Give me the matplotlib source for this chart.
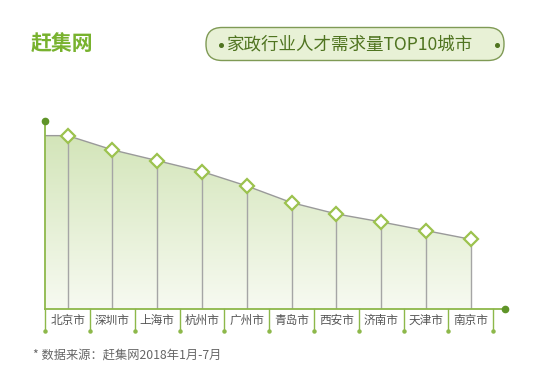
import matplotlib
matplotlib.use("Agg")
import matplotlib.pyplot as plt
import numpy as np
from matplotlib.patches import FancyBboxPatch, Polygon
from matplotlib.colors import LinearSegmentedColormap

plt.rcParams['font.family'] = ['Noto Sans CJK SC', 'DejaVu Sans']

# ---- data ----
cities = ["北京市", "深圳市", "上海市", "杭州市", "广州市",
          "青岛市", "西安市", "济南市", "天津市", "南京市"]
values = [100.0, 91.8, 85.6, 79.3, 71.0, 61.4, 54.9, 50.3, 45.3, 40.3]
brand = "赶集网"
title = "家政行业人才需求量TOP10城市"
source = "* 数据来源：赶集网2018年1月-7月"

W, H = 539, 383
fig = plt.figure(figsize=(W / 100, H / 100), dpi=100)
fig.patch.set_facecolor("white")

# background axes in pixel coordinates
bg = fig.add_axes([0, 0, 1, 1])
bg.set_xlim(0, W)
bg.set_ylim(H, 0)
bg.axis("off")

green = "#8db84a"
dark_green = "#5f9428"

bg.text(31, 44, brand, fontsize=15, fontweight="bold", color="#78b22e",
        ha="left", va="center")
box = FancyBboxPatch((206, 27.5), 298, 33, boxstyle="round,pad=0,rounding_size=16",
                     facecolor="#e8f1d6", edgecolor="#7f9a55", linewidth=1.0)
bg.add_patch(box)
bg.text(350, 44.5, title, fontsize=12.6, color="#4f7420", ha="center", va="center")
for dx in (221, 497):
    bg.plot([dx], [45], marker="o", markersize=2.6, color="#4f7420")
bg.text(33, 355, source, fontsize=8.8, color="#666666", ha="left", va="center")

# chart axes
left_px, right_px = 45.3, 505.0
base_px, top_px = 309.3, 120.7
cell = 44.8
ymax = 108.6
ax = fig.add_axes([left_px / W, (H - base_px) / H,
                   (right_px - left_px) / W, (base_px - top_px) / H])
xmax = (right_px - left_px) / cell - 0.5
ax.set_xlim(-0.5, xmax)
ax.set_ylim(0, ymax)
ax.axis("off")

n = len(values)
xs = np.arange(n)
px_per_unit = (base_px - top_px) / ymax

# gradient fill
poly_x = [-0.5, -0.5] + list(xs) + [xs[-1]]
poly_y = [0, values[0]] + values + [0]
poly = Polygon(np.column_stack([poly_x, poly_y]), closed=True,
               facecolor="none", edgecolor="none")
ax.add_patch(poly)
cmap = LinearSegmentedColormap.from_list("g", ["#f7faf1", "#d3e5b9"])
grad = np.linspace(0, 1, 256).reshape(-1, 1)
im = ax.imshow(grad, extent=[-0.5, xs[-1], 0, values[0]], origin="lower",
               aspect="auto", cmap=cmap, zorder=1)
im.set_clip_path(poly)

# top line
ax.plot([-0.5] + list(xs), [values[0]] + values, color="#9a9a9a", lw=1.0,
        zorder=2)
# vertical drop lines
for x, v in zip(xs, values):
    ax.plot([x, x], [0, v], color="#a5a5a5", lw=1.0, zorder=2)
# markers
ax.plot(xs, values, linestyle="none", marker="D", markersize=7.5,
        markerfacecolor="white", markeredgecolor="#9cc24e",
        markeredgewidth=1.6, zorder=4)

# axes lines
ax.plot([-0.5, -0.5], [0, ymax], color=green, lw=1.3, zorder=3, clip_on=False)
ax.plot([-0.5], [ymax], marker="o", markersize=4.5, color=dark_green,
        zorder=5, clip_on=False)
ax.plot([-0.5, xmax], [0, 0], color=green, lw=1.3, zorder=3, clip_on=False)
ax.plot([xmax], [0], marker="o", markersize=4.5, color=dark_green,
        zorder=5, clip_on=False)

# label strip
strip = 21.4 / px_per_unit
for i in range(n + 1):
    xx = i - 0.5
    ax.plot([xx, xx], [0, -strip], color=green, lw=1.0, clip_on=False,
            zorder=3)
    ax.plot([xx], [-strip], marker="o", markersize=2.2, color=green,
            clip_on=False, zorder=3)
for x, c in zip(xs, cities):
    ax.text(x, -11.4 / px_per_unit, c, fontsize=8.4, color="#555555",
            ha="center", va="center", clip_on=False)

fig.savefig("out.png", dpi=100, facecolor="white")
